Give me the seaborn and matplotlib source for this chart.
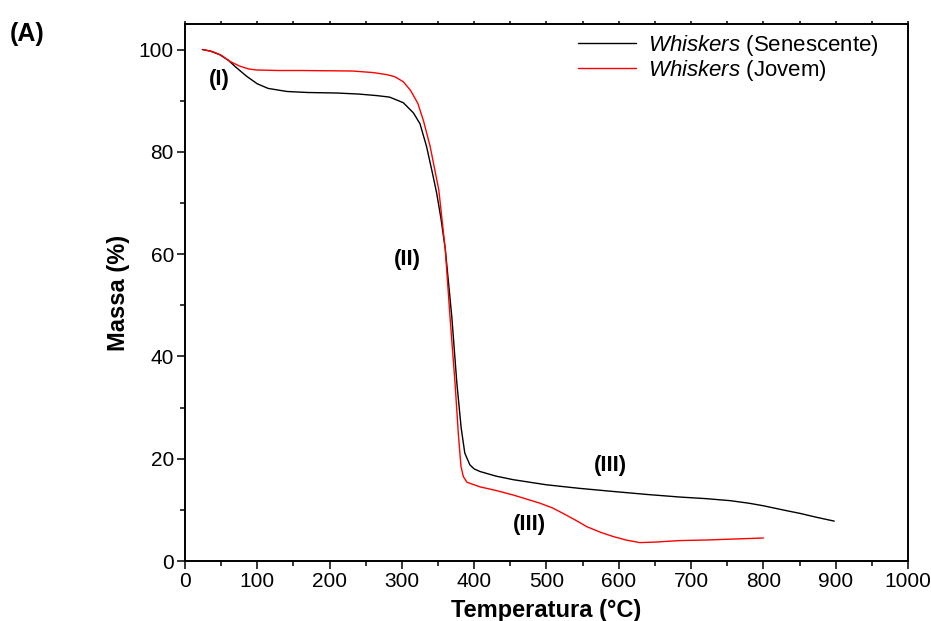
import numpy as np
import pandas as pd
import matplotlib
matplotlib.use("Agg")
import matplotlib.pyplot as plt
from matplotlib.ticker import MultipleLocator
import seaborn as sns

# TGA curves: temperature (°C) vs remaining mass (%)
temp_senescente = [24, 35, 48, 60, 70, 85, 100, 115, 141, 170, 210, 240, 265, 283,
                   302, 316, 325, 334, 342, 348, 354, 360, 369, 376, 382, 387, 394,
                   400, 408, 430, 454, 500, 546, 592, 640, 685, 720, 754, 780, 800,
                   830, 851, 875, 898]
massa_senescente = [100.0, 99.7, 99.0, 97.9, 96.6, 94.8, 93.3, 92.4, 91.8, 91.6, 91.5,
                    91.3, 91.0, 90.7, 89.6, 87.6, 85.5, 81.1, 76.0, 72.0, 67.0, 61.0,
                    47.8, 34.8, 26.0, 21.1, 18.8, 18.0, 17.5, 16.6, 15.9, 14.9, 14.2,
                    13.6, 13.0, 12.5, 12.2, 11.8, 11.3, 10.8, 9.9, 9.3, 8.5, 7.8]

temp_jovem = [25, 38, 50, 62, 75, 88, 99, 130, 163, 232, 260, 279, 290, 302, 312,
              322, 330, 339, 351, 360, 366.5, 373.5, 378, 381.7, 385, 390, 400, 408,
              430, 454, 475, 491, 508, 523, 540, 556, 575, 592, 610, 629, 650, 685,
              720, 760, 800]
massa_jovem = [100.0, 99.6, 98.9, 97.7, 96.8, 96.2, 96.0, 95.9, 95.9, 95.8, 95.5,
               95.1, 94.7, 93.7, 92.0, 89.5, 86.0, 81.1, 72.6, 60.9, 47.8, 34.8,
               25.0, 18.5, 16.5, 15.4, 14.9, 14.5, 13.8, 12.9, 12.0, 11.3, 10.4, 9.3,
               8.0, 6.7, 5.6, 4.8, 4.1, 3.6, 3.7, 4.0, 4.1, 4.3, 4.5]

series_labels = [r"$\it{Whiskers}$ (Senescente)", r"$\it{Whiskers}$ (Jovem)"]
series_colors = ["black", "red"]

# stage annotations: (text, temperature, mass)
stage_labels = ["(I)", "(II)", "(III)", "(III)"]
stage_temp = [48, 307, 588, 477]
stage_massa = [94.1, 58.9, 18.6, 7.2]

sns.set_theme(style="ticks")
plt.rcParams["font.family"] = ["Liberation Sans", "DejaVu Sans"]
plt.rcParams["mathtext.fontset"] = "custom"
plt.rcParams["mathtext.rm"] = "Liberation Sans"
plt.rcParams["mathtext.it"] = "Liberation Sans:italic"
plt.rcParams["mathtext.bf"] = "Liberation Sans:bold"
plt.rcParams["text.color"] = "black"
plt.rcParams["axes.labelcolor"] = "black"
plt.rcParams["xtick.color"] = "black"
plt.rcParams["ytick.color"] = "black"

df = pd.concat([
    pd.DataFrame({"Temperatura": temp_senescente, "Massa": massa_senescente,
                  "Amostra": series_labels[0]}),
    pd.DataFrame({"Temperatura": temp_jovem, "Massa": massa_jovem,
                  "Amostra": series_labels[1]}),
], ignore_index=True)

fig = plt.figure(figsize=(9.31, 6.21), dpi=100)
ax = fig.add_axes([0.1987, 0.0966, 0.7766, 0.8648])

sns.lineplot(data=df, x="Temperatura", y="Massa", hue="Amostra",
             palette=dict(zip(series_labels, series_colors)),
             sort=False, estimator=None, linewidth=1.0, ax=ax)

ax.set_xlim(0, 1000)
ax.set_ylim(0, 105)
ax.xaxis.set_major_locator(MultipleLocator(100))
ax.xaxis.set_minor_locator(MultipleLocator(50))
ax.yaxis.set_minor_locator(MultipleLocator(10))
ax.set_yticks([0, 20, 40, 60, 80, 100])

for sp in ax.spines.values():
    sp.set_linewidth(1.4)
    sp.set_color("black")

ax.tick_params(axis="both", which="major", direction="out", length=6, width=1.1,
               labelsize=15, colors="black", pad=2)
ax.tick_params(axis="both", which="minor", direction="out", length=3.5, width=1.1,
               colors="black")
ax.tick_params(axis="x", which="both", top=True, labeltop=False)
# short inward marks along the top edge
for t in ax.xaxis.get_major_ticks() + ax.xaxis.get_minor_ticks():
    t.tick2line.set_markersize(2.5)
    t.tick2line.set_marker(2)

ax.set_xlabel("Temperatura (°C)", fontsize=17, fontweight="bold", labelpad=6)
ax.set_ylabel("Massa (%)", fontsize=17, fontweight="bold", labelpad=6)

for txt, tx, my in zip(stage_labels, stage_temp, stage_massa):
    ax.text(tx, my, txt, fontsize=16, fontweight="bold", ha="center", va="center")

leg = ax.legend(loc="upper left", bbox_to_anchor=(0.525, 1.008), frameon=False,
                fontsize=16, handlelength=2.6, handletextpad=0.55,
                labelspacing=0.0, borderaxespad=0.2)
for line in leg.get_lines():
    line.set_linewidth(1.0)

fig.text(0.011, 0.945, "(A)", fontsize=18, fontweight="bold", ha="left", va="center")

fig.savefig("out.png", dpi=100)
